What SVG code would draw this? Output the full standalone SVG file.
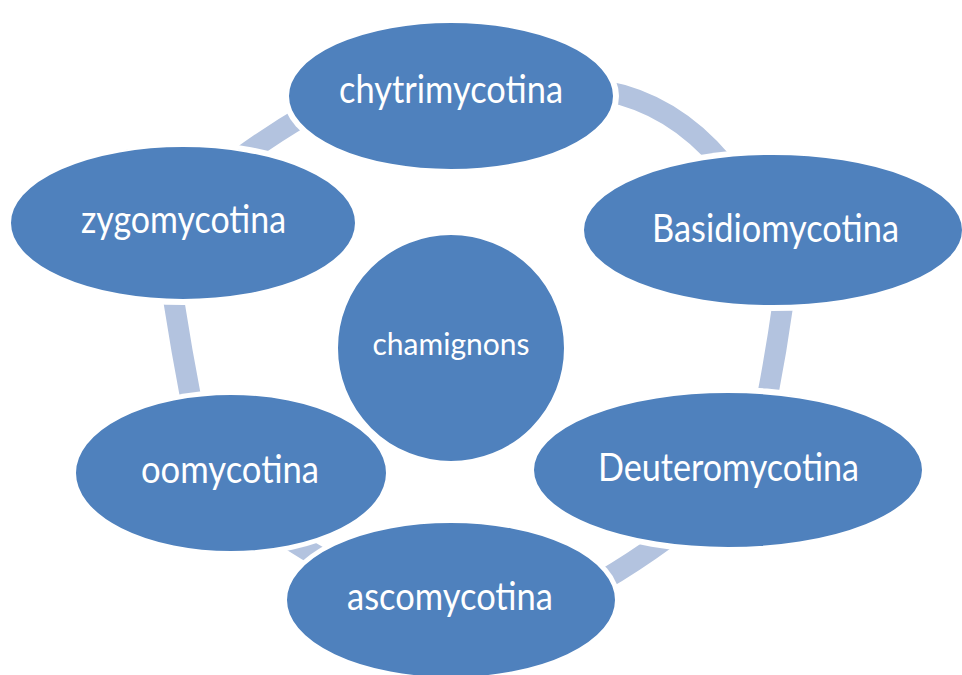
<svg xmlns="http://www.w3.org/2000/svg" width="962" height="675" viewBox="0 0 962 675">
  <style>
    .node { fill: #4F81BD; stroke: #FFFFFF; stroke-width: 2; }
    .lbl { fill: #FFFFFF; font-family: Lato, "Open Sans", "Liberation Sans", sans-serif; font-size: 38px; text-anchor: middle; }
    .lbl-c { font-size: 31px; }
    .arc { fill: none; stroke: #B3C3DF; stroke-width: 21; stroke-linecap: butt; }
    .gap { fill: #000000; }
  </style>
  <defs>
    <mask id="gapMask" maskUnits="userSpaceOnUse" x="0" y="0" width="962" height="675">
      <rect x="0" y="0" width="962" height="675" fill="#FFFFFF"/>
      <ellipse class="gap" cx="451" cy="96" rx="168" ry="79"/>
      <ellipse class="gap" cx="773" cy="230" rx="195" ry="81"/>
      <ellipse class="gap" cx="728" cy="470" rx="200" ry="83"/>
      <ellipse class="gap" cx="451" cy="600" rx="169" ry="82"/>
      <ellipse class="gap" cx="231" cy="473" rx="160" ry="83"/>
      <ellipse class="gap" cx="183" cy="223" rx="178" ry="82"/>
      <ellipse class="gap" cx="451" cy="348" rx="119" ry="119"/>
    </mask>
  </defs>
  <rect x="0" y="0" width="962" height="675" fill="#FFFFFF"/>
  <g id="connectors" mask="url(#gapMask)">
    <path class="arc" d="M240,158 Q272.5,134 308,113.5"/>
    <path class="arc" d="M605,91 Q672.5,103.5 722,162"/>
    <path class="arc" d="M783.5,300 Q776.5,350 766.8,400"/>
    <path class="arc" d="M665,539.5 Q633.5,562.5 600,582"/>
    <path class="arc" d="M332,564 Q306,550.5 282,534"/>
    <path class="arc" d="M192,405 Q181.5,350.5 173,296"/>
  </g>
  <g id="node-chytrimycotina">
    <ellipse class="node" cx="451" cy="96" rx="163" ry="74"/>
    <text class="lbl" x="451" y="103" textLength="224" lengthAdjust="spacingAndGlyphs">chytrimycotina</text>
  </g>
  <g id="node-basidiomycotina">
    <ellipse class="node" cx="773" cy="230" rx="190" ry="76"/>
    <text class="lbl" x="775.5" y="242" textLength="247" lengthAdjust="spacingAndGlyphs">Basidiomycotina</text>
  </g>
  <g id="node-deuteromycotina">
    <ellipse class="node" cx="728" cy="470" rx="195" ry="78"/>
    <text class="lbl" x="728.5" y="481" textLength="261" lengthAdjust="spacingAndGlyphs">Deuteromycotina</text>
  </g>
  <g id="node-ascomycotina">
    <ellipse class="node" cx="451" cy="600" rx="165" ry="78"/>
    <text class="lbl" x="450" y="610" textLength="206" lengthAdjust="spacingAndGlyphs">ascomycotina</text>
  </g>
  <g id="node-oomycotina">
    <ellipse class="node" cx="231" cy="473" rx="156" ry="79"/>
    <text class="lbl" x="230" y="483" textLength="178" lengthAdjust="spacingAndGlyphs">oomycotina</text>
  </g>
  <g id="node-zygomycotina">
    <ellipse class="node" cx="183" cy="223" rx="173" ry="77"/>
    <text class="lbl" x="183.5" y="233" textLength="205" lengthAdjust="spacingAndGlyphs">zygomycotina</text>
  </g>
  <g id="node-chamignons">
    <ellipse class="node" cx="451" cy="348" rx="114" ry="114"/>
    <text class="lbl lbl-c" x="451" y="355" textLength="157" lengthAdjust="spacingAndGlyphs">chamignons</text>
  </g>
</svg>
